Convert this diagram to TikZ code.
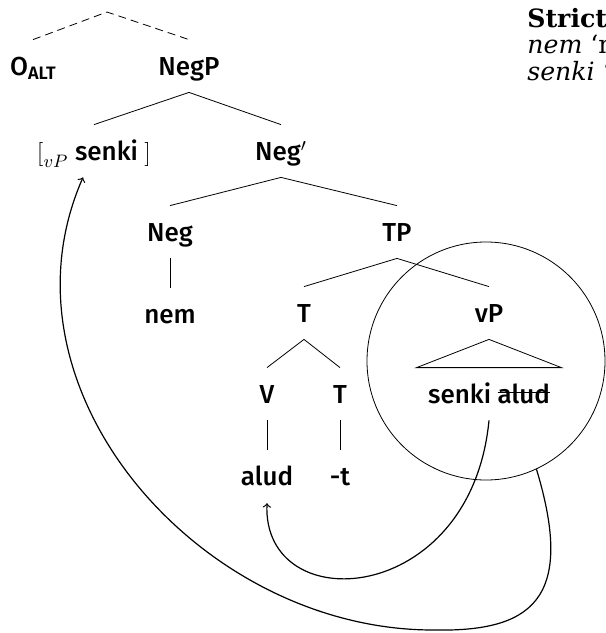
\documentclass[tikz,border=0pt]{standalone}
\usepackage{fontspec}
\setmainfont{Fira Sans}[UprightFont=* Medium, BoldFont=* SemiBold]
\newfontfamily\notefont{DejaVu Serif}
\usetikzlibrary{positioning}
\newcommand{\strk}[1]{\setbox0=\hbox{#1}\rlap{\rule[0.7ex]{\wd0}{0.6pt}}\box0}
\newcommand{\Oalt}{\raisebox{-2pt}{\fontsize{9pt}{9pt}\selectfont\bfseries ALT}}

\begin{document}
\begin{tikzpicture}[x=0.5pt, y=-0.5pt, font=\fontsize{13pt}{15pt}\selectfont,
    tn/.style={text height=9pt, text depth=0pt, inner xsep=3pt, inner ysep=8.5pt, anchor=base},
    note/.style={font=\notefont\fontsize{12.6pt}{14pt}\selectfont, inner sep=0pt, anchor=base west},
    move/.style={->, semithick},
    node distance=15pt]
  \useasboundingbox (0,0) rectangle (606,633);

  % tree
  \coordinate (top) at (107,12);
  \node[tn] (oalt) at (33,75) {O\Oalt};
  \node[tn] (negp) at (189,75) {NegP};
  \node[tn] (vps) at (94,160) {$\big[_{vP}$ senki $\big]$};
  \node[tn] (negbar) at (281,160) {Neg$'$};
  \node[tn] (neg) at (170,241) {Neg};
  \node[tn] (tp) at (397,241) {TP};
  \node[tn, below=of neg] (nem) {nem};
  \node[tn] (t) at (304,322) {T};
  \node[tn] (vp) at (489,322) {vP};
  \node[tn] (v) at (267,403) {V};
  \node[tn] (t2) at (340,403) {T};
  \node[tn, minimum width=72pt] (sa) at (489,403) {senki \strk{alud}};
  \node[tn, below=of v] (alud) {alud};
  \node[tn, below=of t2] (suf) {-t};
  \node[draw, circle, minimum size=119pt, inner sep=0pt] (vcirc) at (486,361) {};

  \draw[dash pattern=on 4pt off 2.5pt] (oalt.north) -- (top) -- (negp.north);
  \draw (vps.north) -- (negp.south) -- (negbar.north);
  \draw (neg.north) -- (negbar.south) -- (tp.north);
  \draw (neg.south) -- (nem.north);
  \draw (t.north) -- (tp.south) -- (vp.north);
  \draw (v.north) -- (t.south) -- (t2.north);
  \draw (v.south) -- (alud.north);
  \draw (t2.south) -- (suf.north);
  \draw (vp.south) -- (sa.north west) -- (sa.north east) -- cycle;

  % movement
  \coordinate (bend) at (433,630);
  \draw[move] (sa.south) .. controls +(-18,187) and +(-5,117) .. (alud.south);
  \draw[move] (vcirc.-65) .. controls +(40,132) and +(97,2) .. (bend)
    .. controls +(-233,0) and +(-93,212) .. ([xshift=-5.5pt]vps.south);

  % gloss
  \node[note] (title) at (527,27) {\bfseries Strict};
  \node[note] (gl1) at (527,53) {\itshape nem\/ \upshape ‘n};
  \node[note] (gl2) at (527,80) {\itshape senki\/ \upshape ‘n};
\end{tikzpicture}
\end{document}
